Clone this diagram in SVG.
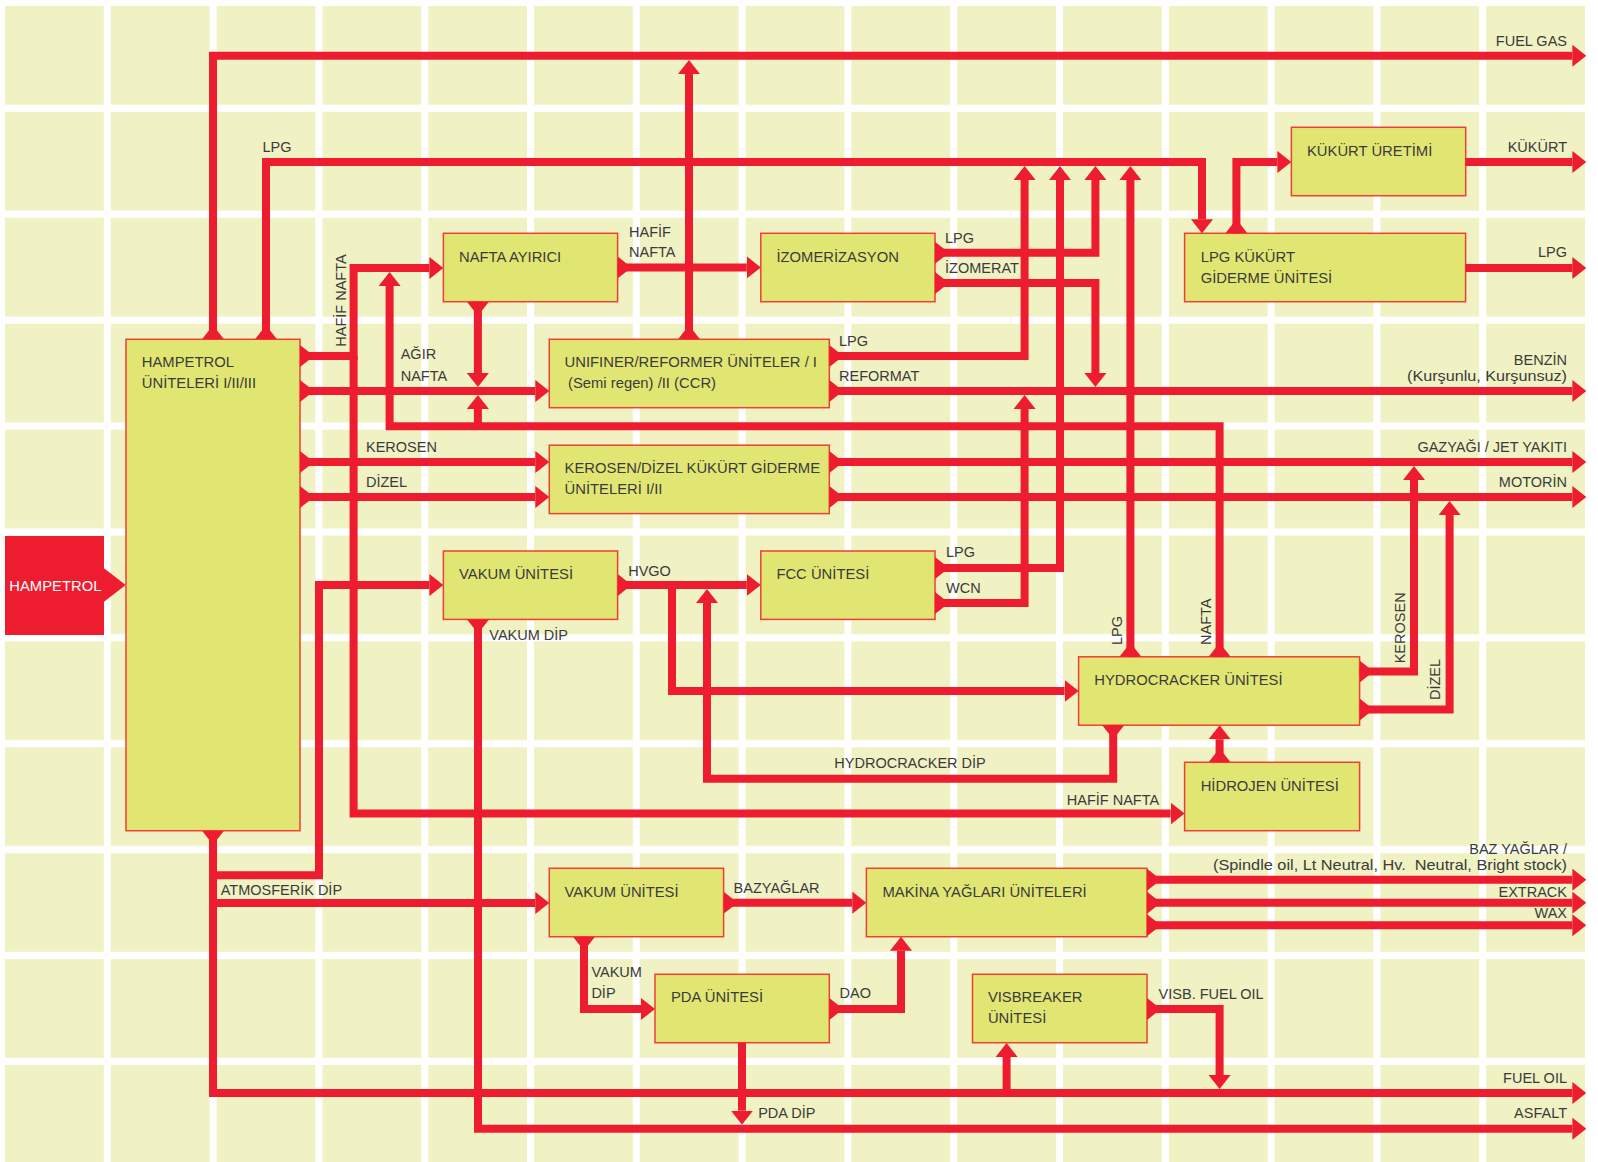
<svg xmlns="http://www.w3.org/2000/svg" width="1598" height="1162" viewBox="0 0 1598 1162">
<style>
.box{fill:#E1E673;stroke:#EF3E36;stroke-width:1.5}
.ln{fill:none;stroke:#ED1C2E;stroke-width:8;stroke-linejoin:miter;stroke-linecap:butt}
.fa{marker-start:url(#tri);marker-end:url(#tri)}
.a{marker-end:url(#tri)}
text{font-family:"Liberation Sans",Arial,sans-serif;fill:#3B3B3B}
.n{font-size:14.8px}
.l{font-size:14.5px}
.e{text-anchor:end}
</style>
<defs>
<pattern id="grid" patternUnits="userSpaceOnUse" x="5" y="6" width="105.8" height="105.9">
<rect width="98.8" height="98.7" fill="#F0F2C3"/>
</pattern>
<marker id="tri" markerUnits="userSpaceOnUse" markerWidth="14" markerHeight="22" viewBox="0 0 14 22" refX="0" refY="11" orient="auto">
<path d="M0,0L14,11L0,22Z" fill="#ED1C2E"/>
</marker>
</defs>
<rect width="1598" height="1162" fill="#FFFFFF"/>
<rect x="5" y="6" width="1580" height="1156" fill="url(#grid)"/>

<g id="hampetrol">
<rect x="5" y="536" width="99" height="99" fill="#ED1C2E"/>
<polygon points="104,568.3 125.7,585 104,601.7" fill="#ED1C2E"/>
<text class="n" x="9.3" y="590.7" style="fill:#FFFFFF">HAMPETROL</text>
</g>
<g id="hampetrol-uniteleri">
<rect class="box" x="126" y="339.3" width="174" height="491.4"/>
<text class="n" x="141.8" y="366.7">HAMPETROL</text>
<text class="n" x="141.8" y="388.3">ÜNİTELERİ I/II/III</text>
</g>
<g id="nafta-ayirici">
<rect class="box" x="443.4" y="233.3" width="174.2" height="68.4"/>
<text class="n" x="459" y="261.7">NAFTA AYIRICI</text>
</g>
<g id="izomerizasyon">
<rect class="box" x="760.8" y="233.3" width="174.2" height="68.4"/>
<text class="n" x="776.4" y="262">İZOMERİZASYON</text>
</g>
<g id="unifiner">
<rect class="box" x="549.3" y="339.3" width="280" height="68.4"/>
<text class="n" x="564.6" y="366.7">UNIFINER/REFORMER ÜNİTELER / I</text>
<text class="n" x="568" y="388.3">(Semi regen) /II (CCR)</text>
</g>
<g id="kerosen-dizel">
<rect class="box" x="549.3" y="445.2" width="280" height="68.4"/>
<text class="n" x="564.6" y="472.7">KEROSEN/DİZEL KÜKÜRT GİDERME</text>
<text class="n" x="564.6" y="494.3">ÜNİTELERİ I/II</text>
</g>
<g id="vakum-1">
<rect class="box" x="443.4" y="551" width="174.2" height="68.4"/>
<text class="n" x="459" y="579">VAKUM ÜNİTESİ</text>
</g>
<g id="fcc">
<rect class="box" x="760.8" y="551" width="174.2" height="68.4"/>
<text class="n" x="776.4" y="579">FCC ÜNİTESİ</text>
</g>
<g id="kukurt-uretimi">
<rect class="box" x="1291.4" y="127.3" width="174.3" height="68.4"/>
<text class="n" x="1307" y="156">KÜKÜRT ÜRETİMİ</text>
</g>
<g id="lpg-kukurt">
<rect class="box" x="1184.6" y="233.3" width="281" height="68.4"/>
<text class="n" x="1200.7" y="261.7">LPG KÜKÜRT</text>
<text class="n" x="1200.7" y="282.7">GİDERME ÜNİTESİ</text>
</g>
<g id="hydrocracker">
<rect class="box" x="1078.6" y="656.8" width="281" height="68.4"/>
<text class="n" x="1094.3" y="685">HYDROCRACKER ÜNİTESİ</text>
</g>
<g id="hidrojen">
<rect class="box" x="1184.6" y="762.3" width="175" height="68.4"/>
<text class="n" x="1200.7" y="791">HİDROJEN ÜNİTESİ</text>
</g>
<g id="vakum-2">
<rect class="box" x="549.3" y="868.3" width="174.3" height="68.4"/>
<text class="n" x="564.6" y="896.7">VAKUM ÜNİTESİ</text>
</g>
<g id="makina-yaglari">
<rect class="box" x="866.4" y="868.3" width="280.6" height="68.4"/>
<text class="n" x="882.5" y="897">MAKİNA YAĞLARI ÜNİTELERİ</text>
</g>
<g id="pda">
<rect class="box" x="655" y="974.3" width="174.3" height="68.4"/>
<text class="n" x="671" y="1002.3">PDA ÜNİTESİ</text>
</g>
<g id="visbreaker">
<rect class="box" x="972.5" y="974.3" width="174.5" height="68.4"/>
<text class="n" x="987.9" y="1002.3">VISBREAKER</text>
<text class="n" x="987.9" y="1023.3">ÜNİTESİ</text>
</g>

<g id="connectors">
<path class="ln fa" d="M213,339.3V55.8H1572.4"/>
<path class="ln fa" d="M689,339.3V74"/>
<path class="ln fa" d="M266,339.3V162H1202V219.3"/>
<path class="ln fa" d="M300,356H353.6V268H429.4"/>
<path class="ln a" d="M353.6,356V813.6H1170.6"/>
<path class="ln fa" d="M1219.6,656.8V426.3H389.6V286"/>
<path class="ln a" d="M477.9,426.3V409"/>
<path class="ln fa" d="M477.9,301.7V373"/>
<path class="ln fa" d="M300,391H535.3"/>
<path class="ln fa" d="M617.6,267.4H746.8"/>
<path class="ln fa" d="M935,252.8H1095.4V180"/>
<path class="ln fa" d="M935,283H1095.4V373"/>
<path class="ln fa" d="M829.3,356H1024.6V180"/>
<path class="ln fa" d="M829.3,391H1572.4"/>
<path class="ln fa" d="M300,462H535.3"/>
<path class="ln fa" d="M300,497H535.3"/>
<path class="ln fa" d="M829.3,462H1572.4"/>
<path class="ln fa" d="M829.3,497H1572.4"/>
<path class="ln fa" d="M1236.4,233.3V162H1277.4"/>
<path class="ln a" d="M1465.7,162H1572.4"/>
<path class="ln a" d="M1465.6,268H1572.4"/>
<path class="ln fa" d="M213,830.7V1093H1572.4"/>
<path class="ln a" d="M213,875.3H319V585H429.4"/>
<path class="ln a" d="M213,903H535.3"/>
<path class="ln fa" d="M617.6,585H746.8"/>
<path class="ln a" d="M672,585V691H1064.6"/>
<path class="ln fa" d="M478,619.4V1128.7H1572.4"/>
<path class="ln fa" d="M935,568H1060V180"/>
<path class="ln fa" d="M935,603H1024.6V409"/>
<path class="ln fa" d="M1130.4,656.8V180"/>
<path class="ln fa" d="M1359.6,671.5H1414V480"/>
<path class="ln fa" d="M1359.6,709.5H1449.6V515"/>
<path class="ln fa" d="M1113.2,725.2V778.7H707V603"/>
<path class="ln fa" d="M1219.6,762.3V739.2"/>
<path class="ln fa" d="M723.6,902.7H852.4"/>
<path class="ln fa" d="M584,936.7V1009H641"/>
<path class="ln fa" d="M829.3,1009H901V950.7"/>
<path class="ln a" d="M742,1042.7V1110.7"/>
<path class="ln a" d="M1006.6,1093V1057"/>
<path class="ln fa" d="M1147,1009H1219.6V1075"/>
<path class="ln fa" d="M1147,879.7H1572.4"/>
<path class="ln fa" d="M1147,902.7H1572.4"/>
<path class="ln fa" d="M1147,925.2H1572.4"/>
</g>

<g id="labels">
<text class="l e" x="1567" y="45.7">FUEL GAS</text>
<text class="l" x="262.5" y="151.7">LPG</text>
<text class="l" transform="translate(345.5,346.7) rotate(-90)">HAFİF NAFTA</text>
<text class="l" x="629" y="236.7">HAFİF</text>
<text class="l" x="629" y="257.3">NAFTA</text>
<text class="l" x="945" y="242.7">LPG</text>
<text class="l" x="945" y="273.3">İZOMERAT</text>
<text class="l" x="400.7" y="359.3">AĞIR</text>
<text class="l" x="400.7" y="381">NAFTA</text>
<text class="l" x="839" y="345.7">LPG</text>
<text class="l" x="839" y="380.7">REFORMAT</text>
<text class="l e" x="1567" y="151.7">KÜKÜRT</text>
<text class="l e" x="1567" y="257.3">LPG</text>
<text class="l e" x="1567" y="365">BENZİN</text>
<text class="l e" x="1567" y="380.7" font-size="15.5" textLength="160" lengthAdjust="spacingAndGlyphs">(Kurşunlu, Kurşunsuz)</text>
<text class="l" x="366" y="451.7">KEROSEN</text>
<text class="l" x="366" y="486.7">DİZEL</text>
<text class="l e" x="1567" y="451.7">GAZYAĞI / JET YAKITI</text>
<text class="l e" x="1567" y="486.7">MOTORİN</text>
<text class="l" x="628.2" y="575.7">HVGO</text>
<text class="l" x="946" y="557.3">LPG</text>
<text class="l" x="946" y="592.7">WCN</text>
<text class="l" x="489.3" y="640">VAKUM DİP</text>
<text class="l" transform="translate(1122,645) rotate(-90)">LPG</text>
<text class="l" transform="translate(1210.7,645) rotate(-90)">NAFTA</text>
<text class="l" transform="translate(1405,663.3) rotate(-90)">KEROSEN</text>
<text class="l" transform="translate(1440,700) rotate(-90)">DİZEL</text>
<text class="l" x="834.3" y="768.3">HYDROCRACKER DİP</text>
<text class="l" x="1066.8" y="805">HAFİF NAFTA</text>
<text class="l" x="220.7" y="895">ATMOSFERİK DİP</text>
<text class="l" x="733.6" y="893.3">BAZYAĞLAR</text>
<text class="l" x="591.4" y="976.7">VAKUM</text>
<text class="l" x="591.4" y="998.3">DİP</text>
<text class="l" x="839.6" y="998.3">DAO</text>
<text class="l" x="758.2" y="1118.3">PDA DİP</text>
<text class="l" x="1158.6" y="999">VISB. FUEL OIL</text>
<text class="l e" x="1567" y="854">BAZ YAĞLAR /</text>
<text class="l e" x="1567" y="870" font-size="15.5" textLength="354" lengthAdjust="spacingAndGlyphs" xml:space="preserve">(Spindle oil, Lt Neutral, Hv.  Neutral, Bright stock)</text>
<text class="l e" x="1567" y="896.7">EXTRACK</text>
<text class="l e" x="1567" y="918.3">WAX</text>
<text class="l e" x="1567" y="1083.3">FUEL OIL</text>
<text class="l e" x="1567" y="1118.3">ASFALT</text>
</g>
</svg>
